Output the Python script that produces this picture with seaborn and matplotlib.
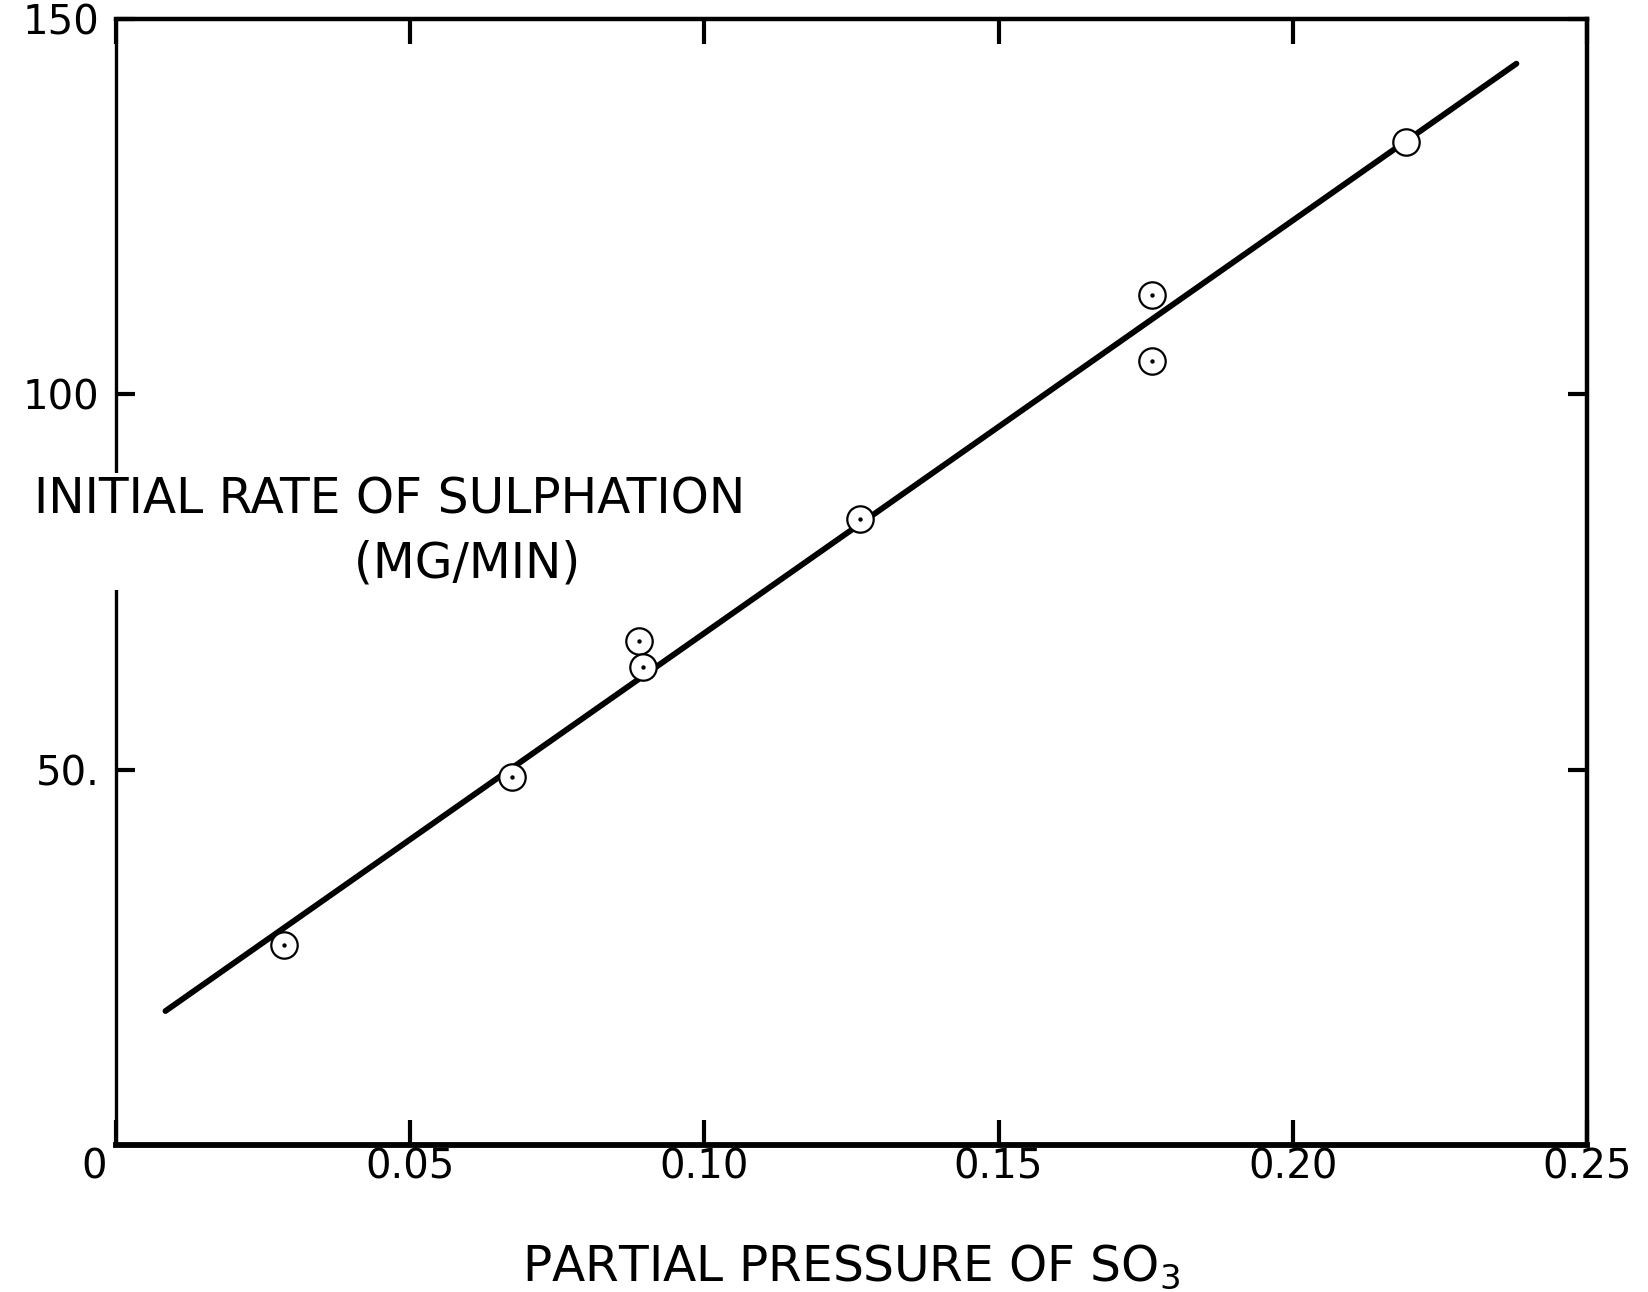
import numpy as np
import pandas as pd
import seaborn as sns
import matplotlib
matplotlib.use("Agg")
import matplotlib.pyplot as plt
from matplotlib.transforms import ScaledTranslation

# Measured sulphation rates vs SO3 partial pressure
pressure = [0.0286, 0.0673, 0.0888, 0.0896, 0.1264, 0.1760, 0.1760, 0.2193]
rate = [26.6, 49.0, 67.2, 63.7, 83.4, 113.2, 104.5, 133.6]
has_center_dot = [True, True, True, True, True, True, True, False]

# Straight-line fit drawn through the data
fit_slope = 550.0
fit_intercept = 13.2
fit_range = [0.0084, 0.238]

x_ticks = [0, 0.05, 0.10, 0.15, 0.20, 0.25]
x_tick_labels = ["0", "0.05", "0.10", "0.15", "0.20", "0.25"]
y_ticks = [50, 100, 150]
y_tick_labels = ["50.", "100", "150"]

sns.set_style("white")
plt.rcParams["font.family"] = ["DejaVu Sans"]
plt.rcParams["text.color"] = "black"
plt.rcParams["axes.labelcolor"] = "black"
plt.rcParams["xtick.color"] = "black"
plt.rcParams["ytick.color"] = "black"

fig = plt.figure(figsize=(16.48, 12.92), dpi=100)
ax = fig.add_axes([0.0704, 0.114, 0.8926, 0.871])

fit_x = np.array(fit_range)
fit_df = pd.DataFrame({"x": fit_x, "y": fit_intercept + fit_slope * fit_x})
sns.lineplot(data=fit_df, x="x", y="y", color="black", linewidth=4.2, ax=ax, zorder=2)

pts = pd.DataFrame({"x": pressure, "y": rate, "dot": has_center_dot})
sns.scatterplot(data=pts, x="x", y="y", marker="o", s=19 ** 2,
                facecolor="white", edgecolor="black", linewidth=1.6, ax=ax, zorder=3)
sns.scatterplot(data=pts[pts["dot"]], x="x", y="y", marker="o", s=10,
                color="black", linewidth=0, ax=ax, zorder=4)

ax.set_xlim(0, 0.25)
ax.set_ylim(0, 150)

ax.set_xticks(x_ticks)
ax.set_xticklabels(x_tick_labels, fontsize=29)
ax.set_yticks(y_ticks)
ax.set_yticklabels(y_tick_labels, fontsize=29)

ax.tick_params(axis="x", direction="in", length=18, width=3, top=True, bottom=True,
               pad=2)
ax.tick_params(axis="y", direction="in", length=14, width=3, left=True, right=True,
               pad=12)

# the origin label sits a little left of the corner
first = ax.get_xticklabels()[0]
first.set_transform(first.get_transform() + ScaledTranslation(-0.22, 0, fig.dpi_scale_trans))

for side, lw in (("left", 2.4), ("top", 3.2), ("right", 3.2), ("bottom", 4.2)):
    ax.spines[side].set_visible(True)
    ax.spines[side].set_linewidth(lw)
    ax.spines[side].set_color("black")

ax.set_xlabel("PARTIAL PRESSURE OF SO$_3$", fontsize=35, labelpad=40)
ax.set_ylabel("INITIAL RATE OF SULPHATION\n          (MG/MIN)", fontsize=35,
              rotation=0, multialignment="center", linespacing=1.4,
              bbox=dict(facecolor="white", edgecolor="none", pad=2))
ax.yaxis.set_label_coords(0.186, 0.545)
ax.yaxis.label.set_verticalalignment("center")
ax.yaxis.label.set_horizontalalignment("center")
ax.yaxis.set_zorder(3)

fig.savefig("out.png", dpi=100, facecolor="white")
